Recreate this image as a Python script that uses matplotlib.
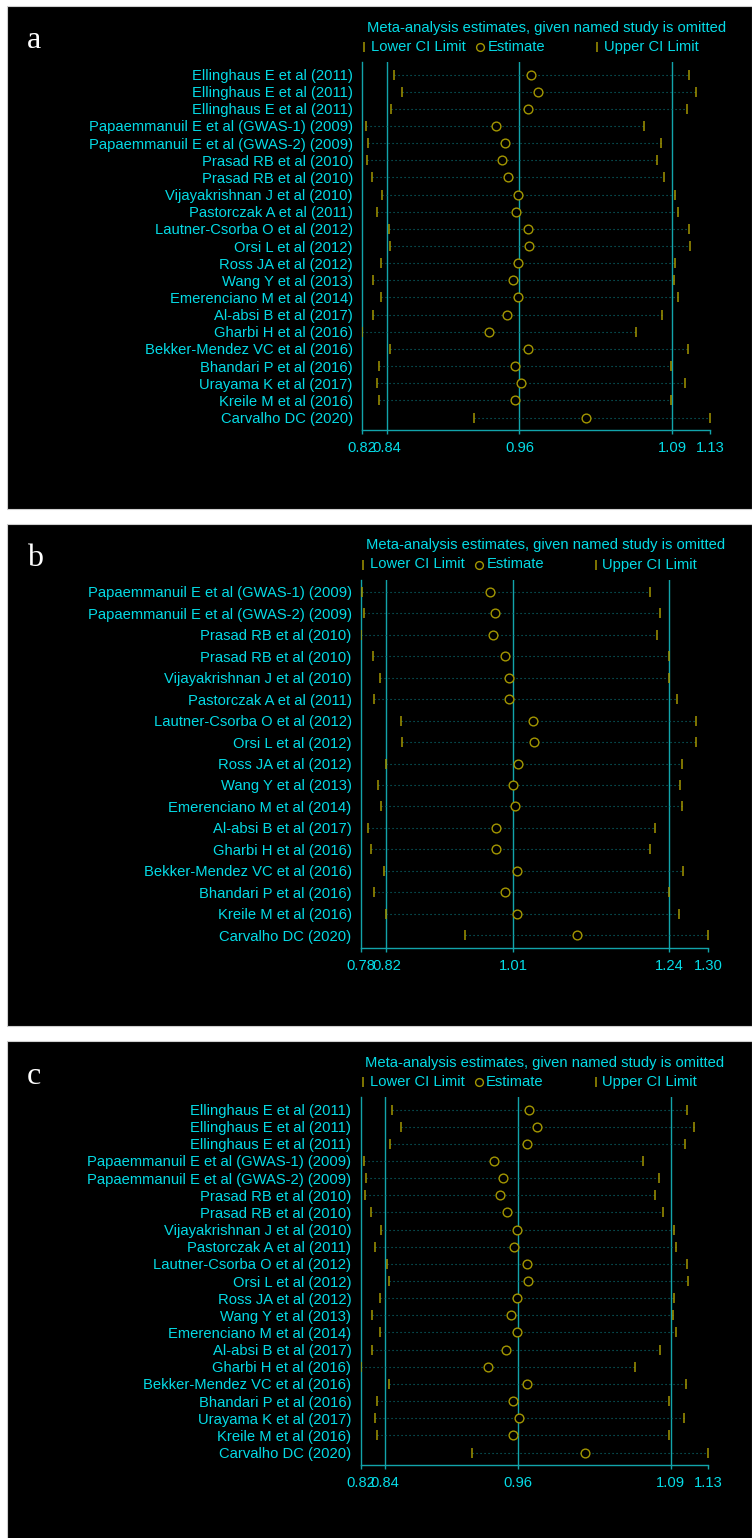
import numpy as np
import matplotlib
matplotlib.use('Agg')
import matplotlib.pyplot as plt
from matplotlib.patches import Rectangle

# studies omitted one at a time (panels a and c use the same set)
studies_ac = [
    'Ellinghaus E et al (2011)', 'Ellinghaus E et al (2011)', 'Ellinghaus E et al (2011)',
    'Papaemmanuil E et al (GWAS-1) (2009)', 'Papaemmanuil E et al (GWAS-2) (2009)',
    'Prasad RB et al (2010)', 'Prasad RB et al (2010)', 'Vijayakrishnan J et al (2010)',
    'Pastorczak A et al (2011)', 'Lautner-Csorba O et al (2012)', 'Orsi L et al (2012)',
    'Ross JA et al (2012)', 'Wang Y et al (2013)', 'Emerenciano M et al (2014)',
    'Al-absi B et al (2017)', 'Gharbi H et al (2016)', 'Bekker-Mendez VC et al (2016)',
    'Bhandari P et al (2016)', 'Urayama K et al (2017)', 'Kreile M et al (2016)',
    'Carvalho DC (2020)',
]
lower_ac = [0.844, 0.852, 0.842, 0.819, 0.821, 0.820, 0.825, 0.834, 0.829, 0.840, 0.841,
            0.833, 0.826, 0.833, 0.826, 0.816, 0.841, 0.831, 0.829, 0.831, 0.916]
est_ac = [0.967, 0.974, 0.965, 0.936, 0.944, 0.941, 0.947, 0.956, 0.954, 0.965, 0.966,
          0.956, 0.951, 0.956, 0.946, 0.930, 0.965, 0.953, 0.958, 0.953, 1.017]
upper_ac = [1.109, 1.115, 1.107, 1.069, 1.084, 1.080, 1.087, 1.097, 1.099, 1.109, 1.110,
            1.097, 1.096, 1.099, 1.085, 1.062, 1.108, 1.093, 1.106, 1.093, 1.128]
overall_ac = [0.838, 0.957, 1.094]   # lower CI, pooled estimate, upper CI

studies_b = [
    'Papaemmanuil E et al (GWAS-1) (2009)', 'Papaemmanuil E et al (GWAS-2) (2009)',
    'Prasad RB et al (2010)', 'Prasad RB et al (2010)', 'Vijayakrishnan J et al (2010)',
    'Pastorczak A et al (2011)', 'Lautner-Csorba O et al (2012)', 'Orsi L et al (2012)',
    'Ross JA et al (2012)', 'Wang Y et al (2013)', 'Emerenciano M et al (2014)',
    'Al-absi B et al (2017)', 'Gharbi H et al (2016)', 'Bekker-Mendez VC et al (2016)',
    'Bhandari P et al (2016)', 'Kreile M et al (2016)', 'Carvalho DC (2020)',
]
lower_b = [0.781, 0.784, 0.780, 0.798, 0.809, 0.799, 0.840, 0.842, 0.817, 0.806, 0.810,
           0.790, 0.795, 0.815, 0.800, 0.817, 0.936]
est_b = [0.973, 0.981, 0.977, 0.995, 1.002, 1.001, 1.038, 1.039, 1.015, 1.007, 1.011,
         0.982, 0.982, 1.014, 0.996, 1.013, 1.103]
upper_b = [1.212, 1.227, 1.223, 1.241, 1.241, 1.253, 1.281, 1.281, 1.261, 1.257, 1.260,
           1.220, 1.213, 1.262, 1.241, 1.256, 1.300]
overall_b = [0.818, 1.008, 1.241]

TITLE = 'Meta-analysis estimates, given named study is omitted'
CYAN = '#05dbe6'
TEAL = '#12a4ab'
DOTS = '#0b7378'
OLIVE = '#a39600'
SANS = 'Liberation Sans'
FS = 10.6

W, H = 752, 1538
fig = plt.figure(figsize=(W / 100, H / 100), dpi=100, facecolor='white')

# pixel-space canvas for the panel backgrounds, letters and legends
canvas = fig.add_axes([0, 0, 1, 1])
canvas.set_xlim(0, W)
canvas.set_ylim(H, 0)
canvas.axis('off')


def px_rect(x0, y0, x1, y1):
    return [x0 / W, 1 - y1 / H, (x1 - x0) / W, (y1 - y0) / H]


def draw_panel(letter, top, bottom, x0, x1, labels, lo, est, hi, overall):
    canvas.add_patch(Rectangle((7, top), W - 7, bottom - top, facecolor='black',
                               edgecolor='#cfcfcf', lw=0.8, zorder=0))
    canvas.text(27, top + 35, letter, family='Liberation Serif', size=23,
                color='white', va='center', ha='left')
    canvas.text(x0 + 4.5, top + 22, TITLE, family=SANS, size=FS, color=CYAN,
                va='center', ha='left')

    ly = top + 41
    canvas.plot([x0 + 2], [ly], marker='|', ms=7.5, mew=1.1, color=OLIVE, ls='none')
    canvas.text(x0 + 9, ly, 'Lower CI Limit', family=SANS, size=FS, color=CYAN, va='center')
    canvas.plot([x0 + 118], [ly], marker='o', ms=5.6, mew=1.0, mfc='none', mec=OLIVE, ls='none')
    canvas.text(x0 + 125.5, ly, 'Estimate', family=SANS, size=FS, color=CYAN, va='center')
    canvas.plot([x0 + 235], [ly], marker='|', ms=7.5, mew=1.1, color=OLIVE, ls='none')
    canvas.text(x0 + 241.5, ly, 'Upper CI Limit', family=SANS, size=FS, color=CYAN, va='center')

    ytop = top + 56
    hgt = 368
    ax = fig.add_axes(px_rect(x0, ytop, x1, ytop + hgt))
    ax.set_facecolor('none')
    n = len(labels)
    rows = np.arange(n)
    step = (hgt - 25) / (n - 1)
    ax.set_ylim(n - 1 + 12.5 / step, -12.5 / step)
    ax.set_xlim(min(lo), max(hi))

    for v in overall:
        ax.axvline(v, color=TEAL, lw=1.0, zorder=1)
    ax.hlines(rows, lo, hi, colors=DOTS, linestyles=[(0, (1, 2.6))], lw=0.8, zorder=2)
    ax.plot(lo, rows, ls='none', marker='|', ms=7.2, mew=1.1, color=OLIVE, zorder=3)
    ax.plot(hi, rows, ls='none', marker='|', ms=7.2, mew=1.1, color=OLIVE, zorder=3)
    ax.plot(est, rows, ls='none', marker='o', ms=6.3, mew=1.0, mfc='black', mec=OLIVE, zorder=4)

    ticks = [min(lo)] + list(overall) + [max(hi)]
    ax.set_xticks(ticks, ['%.2f' % t for t in ticks])
    ax.set_yticks(rows, labels)
    ax.tick_params(axis='x', colors=TEAL, length=3, width=1.0, pad=5,
                   labelcolor=CYAN, labelsize=FS)
    ax.tick_params(axis='y', length=0, pad=6.8, labelcolor=CYAN, labelsize=FS)
    for t in ax.get_xticklabels() + ax.get_yticklabels():
        t.set_family(SANS)
    for side in ('top', 'right'):
        ax.spines[side].set_visible(False)
    for side in ('left', 'bottom'):
        ax.spines[side].set_color(TEAL)
        ax.spines[side].set_linewidth(1.0)


draw_panel('a', 6, 509, 362.3, 710.0, studies_ac, lower_ac, est_ac, upper_ac, overall_ac)
draw_panel('b', 523.5, 1026, 361.0, 708.3, studies_b, lower_b, est_b, upper_b, overall_b)
draw_panel('c', 1041, 1545, 360.7, 708.4, studies_ac, lower_ac, est_ac, upper_ac, overall_ac)

fig.savefig('out.png', dpi=100, facecolor='white')
